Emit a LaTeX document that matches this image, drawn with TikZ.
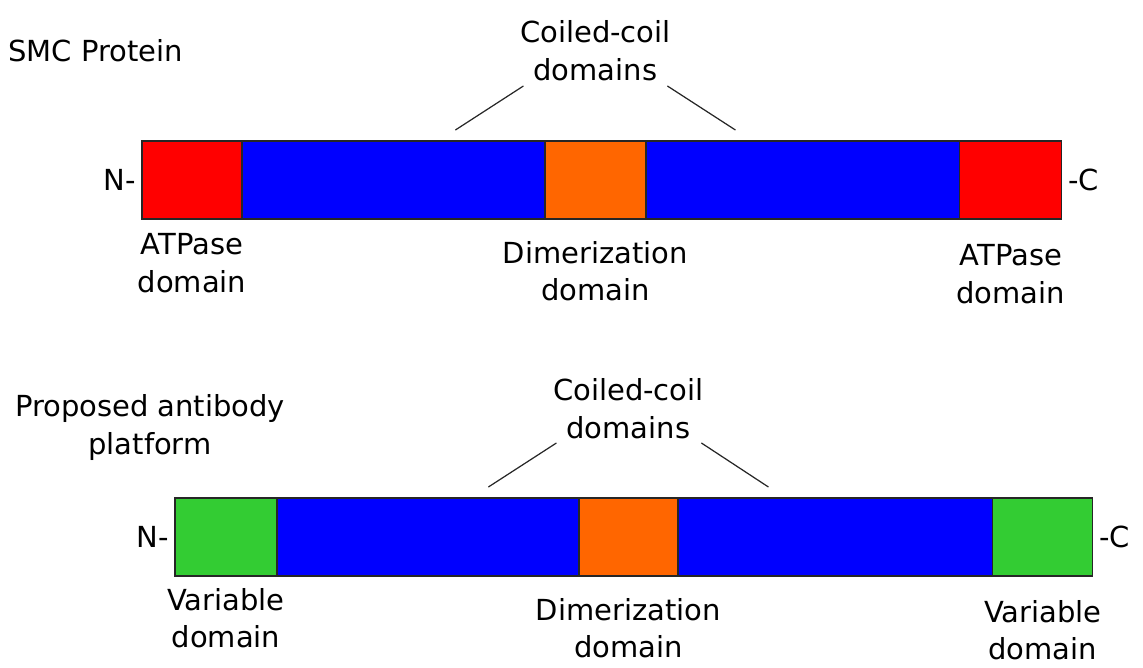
\documentclass[tikz,border=0pt]{standalone}
\usepackage{fontspec}
\setmainfont{DejaVu Sans}
\usepackage{tikz}
\usetikzlibrary{positioning, calc}

\definecolor{atpred}{RGB}{255,0,0}
\definecolor{coilblue}{RGB}{0,0,255}
\definecolor{dimorange}{RGB}{255,102,0}
\definecolor{vargreen}{RGB}{51,204,51}

\begin{document}
\begin{tikzpicture}[
        x=0.02cm, y=-0.02cm,
        seg/.style={rectangle, draw=black!85, line width=0.7pt, minimum height=1.56cm, inner sep=0pt, outer sep=0pt},
        lbl/.style={align=center, font=\fontsize{16.5}{21.5}\selectfont},
        leader/.style={line width=0.7pt, draw=black!85}
    ]
        \useasboundingbox (0,0) rectangle (1143,668);

        % SMC protein
        \node[lbl, anchor=base west] (smcTitle) at (2,62) {SMC Protein};
        \node[seg, fill=atpred, minimum width=2cm, anchor=north west] (atpN) at (142,141) {};
        \node[seg, fill=coilblue, minimum width=6.06cm, right=0pt of atpN] (coilA) {};
        \node[seg, fill=dimorange, minimum width=2.02cm, right=0pt of coilA] (dimA) {};
        \node[seg, fill=coilblue, minimum width=6.28cm, right=0pt of dimA] (coilB) {};
        \node[seg, fill=atpred, minimum width=2.04cm, right=0pt of coilB] (atpC) {};

        \node[lbl, left=0pt of atpN] (nA) {N-};
        \node[lbl, right=0pt of atpC] (cA) {-C};
        \node[lbl, below=0.16cm of atpN] (atpNLbl) {ATPase\\domain};
        \node[lbl, below=0.32cm of dimA] (dimALbl) {Dimerization\\domain};
        \node[lbl, below=0.38cm of atpC] (atpCLbl) {ATPase\\domain};
        \node[lbl, above=1.08cm of dimA] (coilALbl) {Coiled-coil\\domains};

        \coordinate (legA1) at ($(dimA.north)+(-72,-55)$);
        \coordinate (legA2) at ($(dimA.north)+(-140,-11)$);
        \coordinate (legA3) at ($(dimA.north)+(72,-55)$);
        \coordinate (legA4) at ($(dimA.north)+(140,-11)$);
        \draw[leader] (legA1) -- (legA2);
        \draw[leader] (legA3) -- (legA4);

        % antibody platform
        \node[lbl, anchor=north] (abTitle) at (150,388) {Proposed antibody\\platform};
        \node[seg, fill=vargreen, minimum width=2.04cm, anchor=north west] (varN) at (175,498) {};
        \node[seg, fill=coilblue, minimum width=6.04cm, right=0pt of varN] (coilC) {};
        \node[seg, fill=dimorange, minimum width=1.98cm, right=0pt of coilC] (dimB) {};
        \node[seg, fill=coilblue, minimum width=6.3cm, right=0pt of dimB] (coilD) {};
        \node[seg, fill=vargreen, minimum width=2cm, right=0pt of coilD] (varC) {};

        \node[lbl, left=0pt of varN] (nB) {N-};
        \node[lbl, right=0pt of varC] (cB) {-C};
        \node[lbl, below=0.12cm of varN] (varNLbl) {Variable\\domain};
        \node[lbl, below=0.32cm of dimB] (dimBLbl) {Dimerization\\domain};
        \node[lbl, below=0.36cm of varC] (varCLbl) {Variable\\domain};
        \node[lbl, above=1.06cm of dimB] (coilBLbl) {Coiled-coil\\domains};

        \coordinate (legB1) at ($(dimB.north)+(-72,-55)$);
        \coordinate (legB2) at ($(dimB.north)+(-140,-11)$);
        \coordinate (legB3) at ($(dimB.north)+(73,-55)$);
        \coordinate (legB4) at ($(dimB.north)+(140,-11)$);
        \draw[leader] (legB1) -- (legB2);
        \draw[leader] (legB3) -- (legB4);
    \end{tikzpicture}
\end{document}
